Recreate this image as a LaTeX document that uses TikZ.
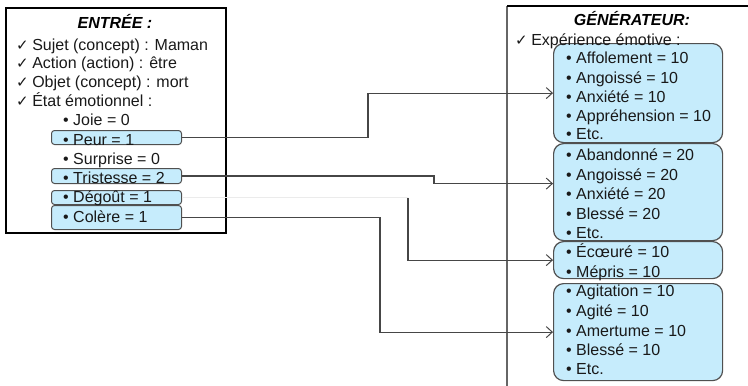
\documentclass[tikz,border=0pt]{standalone}
\usepackage{fontspec}
\setmainfont{Liberation Sans}
\newfontfamily\symfont{DejaVu Sans}
\usetikzlibrary{arrows.meta}
\definecolor{boxblue}{RGB}{198,236,252}
\definecolor{boxedge}{RGB}{80,80,80}
\definecolor{linegray}{RGB}{70,70,70}
\newcommand{\chk}{{\symfont\fontsize{15}{15}\selectfont ✓}\hspace{3.5pt}}
\begin{document}
\begin{tikzpicture}[x=1pt,y=-1pt,
  txt/.style={anchor=base west, inner sep=0pt, font=\fontsize{16}{19}\selectfont, text=black!90},
  titletxt/.style={anchor=base, inner sep=0pt, font=\fontsize{16}{19}\selectfont\bfseries\itshape},
  smallbox/.style={draw=boxedge, fill=boxblue, rounded corners=3pt, line width=1pt, inner sep=0pt, anchor=north west, minimum width=130pt},
  bigbox/.style={draw=boxedge, fill=boxblue, rounded corners=10pt, line width=1.2pt, inner sep=0pt, anchor=north west, minimum width=169pt},
  conn/.style={draw=linegray, line width=1.2pt, -{Straight Barb[length=6pt,width=11pt,line width=1pt]}},
  faint/.style={draw=black!8, line width=1pt},
  frame/.style={line width=1.3pt}]
\useasboundingbox (0,0) rectangle (748,386);

% frames
\draw[frame] (6,8) rectangle (226,233);
\draw[line width=1.5pt, black!60] (507,386) -- (507,6);
\draw[frame] (507,6) -- (748,6);

% left boxes
\node[smallbox, minimum height=14pt] (peur) at (51,130) {};
\node[smallbox, minimum height=15pt] (trist) at (51,168) {};
\node[smallbox, minimum height=14pt] (degout) at (51,190) {};
\node[smallbox, minimum height=24pt] (colere) at (51,205) {};

% right boxes
\node[bigbox, minimum height=99pt] (b1) at (553,43) {};
\node[bigbox, minimum height=97pt] (b2) at (553,143) {};
\node[bigbox, minimum height=37pt] (b3) at (553,241) {};
\node[bigbox, minimum height=97pt] (b4) at (553,283) {};

% left texts
\node[titletxt] (tin) at (115,28) {ENTRÉE :};
\node[txt] (l1) at (16,50) {\chk Sujet (concept) : Maman};
\node[txt] (l2) at (16,68) {\chk Action (action) : être};
\node[txt] (l3) at (16,87) {\chk Objet (concept) : mort};
\node[txt] (l4) at (16,106) {\chk État émotionnel :};
\node[txt] (e1) at (63,125) {• Joie = 0};
\node[txt] (e2) at (63,145) {• Peur = 1};
\node[txt] (e3) at (63,164) {• Surprise = 0};
\node[txt] (e4) at (63,183) {• Tristesse = 2};
\node[txt] (e5) at (63,202) {• Dégoût = 1};
\node[txt] (e6) at (63,222) {• Colère = 1};

% right texts
\node[titletxt] (tgen) at (632,25) {GÉNÉRATEUR:};
\node[txt] (r0) at (515,45) {\chk Expérience émotive :};
\node[txt] (a1) at (566,63) {• Affolement = 10};
\node[txt] (a2) at (566,83) {• Angoissé = 10};
\node[txt] (a3) at (566,102) {• Anxiété = 10};
\node[txt] (a4) at (566,121) {• Appréhension = 10};
\node[txt] (a5) at (566,139) {• Etc.};
\node[txt] (c1) at (566,160) {• Abandonné = 20};
\node[txt] (c2) at (566,180) {• Angoissé = 20};
\node[txt] (c3) at (566,199) {• Anxiété = 20};
\node[txt] (c4) at (566,219) {• Blessé = 20};
\node[txt] (c5) at (566,238) {• Etc.};
\node[txt] (d1) at (566,257) {• Écœuré = 10};
\node[txt] (d2) at (566,277) {• Mépris = 10};
\node[txt] (f1) at (566,296) {• Agitation = 10};
\node[txt] (f2) at (566,316) {• Agité = 10};
\node[txt] (f3) at (566,336) {• Amertume = 10};
\node[txt] (f4) at (566,355) {• Blessé = 10};
\node[txt] (f5) at (566,374) {• Etc.};

% connectors
\draw[conn] (peur.east) -- ++(186,0) |- (b1.west);
\draw[conn] (trist.east) -- ++(252,0) |- ([yshift=8.5pt]b2.west);
\draw[faint] (degout.east) -- ++(226,0) coordinate (dg);
\draw[conn] (dg) |- (b3.west);
\draw[conn] (colere.east) -- ++(198,0) |- (b4.west);
\end{tikzpicture}
\end{document}
